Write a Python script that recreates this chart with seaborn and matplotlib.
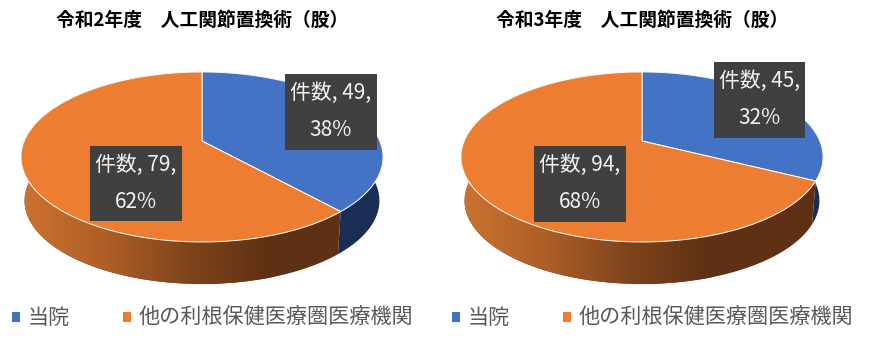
import numpy as np
import matplotlib
matplotlib.use('Agg')
import matplotlib.pyplot as plt
import seaborn as sns
from matplotlib.patches import Polygon, Rectangle
from matplotlib.path import Path
from matplotlib.transforms import Affine2D, Transform

categories = ['当院', '他の利根保健医療圏医療機関']
titles = ['令和2年度　人工関節置換術（股）', '令和3年度　人工関節置換術（股）']
series_name = '件数'
counts_r2 = [49, 79]
counts_r3 = [45, 94]

top_colors = ['#4472C4', '#ED7D31']
side_dark = '#1A2D55'
side_ramp = ['#CC7330', '#AE5F27', '#7E441C', '#5E3014']

sns.set_theme(style='white')
plt.rcParams['font.family'] = ['Noto Sans CJK JP', 'DejaVu Sans']

# perspective of the pie top, unit circle -> pixels around the pie centre
R, B, K = 177.8, 82.0, 0.188
DEPTH, SHRINK = 44.0, 0.98


def project(x, y):
    w = 1 + K * y
    return R * x / w, B * y / w


class Tilt(Transform):
    input_dims = 2
    output_dims = 2

    def transform_non_affine(self, values):
        values = np.asarray(values, dtype=float)
        return np.column_stack(project(values[:, 0], values[:, 1]))

    def transform_path_non_affine(self, path):
        # flatten the arcs first, control points do not survive the perspective
        polys = path.transformed(Affine2D().scale(400)).to_polygons(closed_only=False)
        return Path(self.transform_non_affine(np.concatenate(polys) / 400))


def side_band(theta1, theta2):
    t = np.radians(np.linspace(theta1, theta2, 200))
    x, y = project(np.cos(t), np.sin(t))
    upper = np.column_stack([x, y])
    lower = np.column_stack([x * SHRINK, y * SHRINK - DEPTH])
    return np.vstack([upper, lower[::-1]])


def draw_pie(ax, counts, title, cx, width, title_x, label_boxes):
    wedges, _ = ax.pie(counts, colors=top_colors, startangle=90, counterclock=False,
                       wedgeprops=dict(edgecolor='white', linewidth=0.7, zorder=3))
    tilt = Tilt() + ax.transData
    for w in wedges:
        w.set_transform(tilt)
        w.set_clip_on(False)

    ramp = sns.blend_palette(side_ramp, as_cmap=True)
    grad = np.linspace(0, 1, 256).reshape(1, -1)
    for w, is_orange in zip(wedges, [False, True]):
        band = Polygon(side_band(w.theta1, w.theta2), closed=True, transform=ax.transData,
                       facecolor=side_dark, edgecolor='none', zorder=1)
        ax.add_patch(band)
        if is_orange:
            # the ramp stops at the dark brown well before the right end of the pie
            im = ax.imshow(grad, extent=(-181, 70, -150, 30), cmap=ramp, aspect='auto', zorder=2)
            im.set_clip_path(band)
            band.set_facecolor(side_ramp[-1])

    ax.set_xlim(-cx, width - cx)
    ax.set_ylim(141 - 351, 141)
    ax.set_aspect('auto')
    ax.axis('off')

    ax.text(title_x - cx, 121, title, ha='center', va='center', fontsize=13.5,
            fontweight='bold', color='black')

    total = sum(counts)
    for n, (x0, y0, x1, y1) in zip(counts, label_boxes):
        ax.add_patch(Rectangle((x0 - cx, 141 - y1), x1 - x0, y1 - y0, facecolor='#404040',
                               edgecolor='none', zorder=4))
        xm = (x0 + x1) / 2 - cx
        ax.text(xm, 141 - y0 - 19, f'{series_name}, {n},', ha='center', va='center',
                fontsize=15, color='#F2F2F2', zorder=5)
        ax.text(xm, 141 - y0 - 56, f'{round(100 * n / total)}%', ha='center', va='center',
                fontsize=15, color='#F2F2F2', zorder=5)

    ax.legend(wedges, categories, ncol=2, loc='center left', frameon=False, fontsize=15.2,
              bbox_to_anchor=(11 - cx, 141 - 318), bbox_transform=ax.transData,
              borderaxespad=0, borderpad=0, handlelength=0.43, handleheight=0.43,
              handletextpad=0.36, columnspacing=2.45, labelcolor='#595959')


fig = plt.figure(figsize=(8.71, 3.51), dpi=100)
ax1 = fig.add_axes([0, 0, 440 / 871, 1])
ax2 = fig.add_axes([440 / 871, 0, 431 / 871, 1])

draw_pie(ax1, counts_r2, titles[0], 202, 440, 202, [(285, 74, 377, 150), (90, 146, 182, 221)])
draw_pie(ax2, counts_r3, titles[1], 202, 431, 202, [(274, 62, 365, 138), (94, 146, 186, 222)])

fig.savefig('out.png', dpi=100)
